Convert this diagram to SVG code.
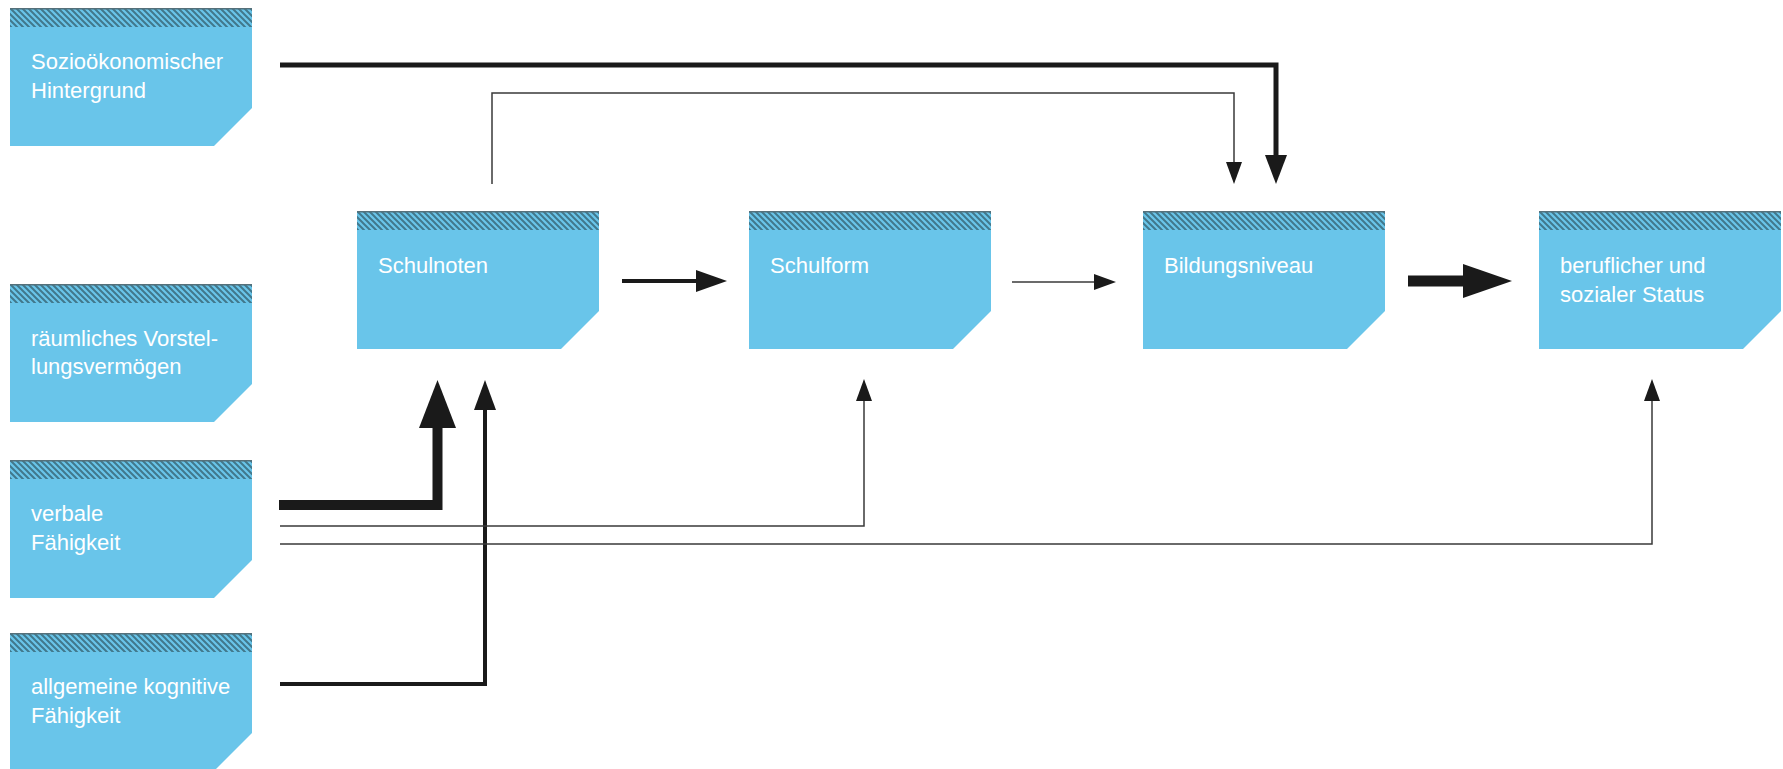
<svg xmlns="http://www.w3.org/2000/svg" width="1783" height="769" viewBox="0 0 1783 769">
  <defs>
    <pattern id="hatch" patternUnits="userSpaceOnUse" width="6" height="6">
      <rect width="6" height="6" fill="#69c5ea"/>
      <path d="M-1,-1 L7,7 M-1,5 L1,7 M5,-1 L7,1" stroke="#41788c" stroke-width="2"/>
    </pattern>
    <path id="box" d="M0,0 H242 V100 L204,138 H0 Z"/>
  </defs>
  <style>
    .fill { fill: #69c5ea; }
    .hatch { fill: url(#hatch); }
    .topline { fill: #55707a; }
    .label { font-family: "Liberation Sans", Arial, sans-serif; font-size: 22px; fill: #ffffff; }
    .ln { fill: none; stroke: #1a1a1a; stroke-linejoin: miter; stroke-linecap: butt; }
    .thin { stroke: #3a3a3a; stroke-width: 1.5; }
    .head { fill: #1a1a1a; }
  </style>

  <rect width="1783" height="769" fill="#ffffff"/>

  <!-- Nodes -->
  <g id="node-sozio" transform="translate(10,8)">
    <use href="#box" class="fill"/>
    <rect x="0" y="0" width="242" height="19" class="hatch"/>
    <rect x="0" y="0" width="242" height="1.5" class="topline"/>
    <text class="label" x="21" y="61">Sozioökonomischer</text>
    <text class="label" x="21" y="90">Hintergrund</text>
  </g>
  <g id="node-raeumlich" transform="translate(10,284)">
    <use href="#box" class="fill"/>
    <rect x="0" y="0" width="242" height="19" class="hatch"/>
    <rect x="0" y="0" width="242" height="1.5" class="topline"/>
    <text class="label" x="21" y="62">räumliches Vorstel-</text>
    <text class="label" x="21" y="90">lungsvermögen</text>
  </g>
  <g id="node-verbal" transform="translate(10,460)">
    <use href="#box" class="fill"/>
    <rect x="0" y="0" width="242" height="19" class="hatch"/>
    <rect x="0" y="0" width="242" height="1.5" class="topline"/>
    <text class="label" x="21" y="61">verbale</text>
    <text class="label" x="21" y="90">Fähigkeit</text>
  </g>
  <g id="node-kognitiv" transform="translate(10,633)">
    <use href="#box" class="fill"/>
    <rect x="0" y="0" width="242" height="19" class="hatch"/>
    <rect x="0" y="0" width="242" height="1.5" class="topline"/>
    <text class="label" x="21" y="61">allgemeine kognitive</text>
    <text class="label" x="21" y="90">Fähigkeit</text>
  </g>
  <g id="node-schulnoten" transform="translate(357,211)">
    <use href="#box" class="fill"/>
    <rect x="0" y="0" width="242" height="19" class="hatch"/>
    <rect x="0" y="0" width="242" height="1.5" class="topline"/>
    <text class="label" x="21" y="62">Schulnoten</text>
  </g>
  <g id="node-schulform" transform="translate(749,211)">
    <use href="#box" class="fill"/>
    <rect x="0" y="0" width="242" height="19" class="hatch"/>
    <rect x="0" y="0" width="242" height="1.5" class="topline"/>
    <text class="label" x="21" y="62">Schulform</text>
  </g>
  <g id="node-bildung" transform="translate(1143,211)">
    <use href="#box" class="fill"/>
    <rect x="0" y="0" width="242" height="19" class="hatch"/>
    <rect x="0" y="0" width="242" height="1.5" class="topline"/>
    <text class="label" x="21" y="62">Bildungsniveau</text>
  </g>
  <g id="node-status" transform="translate(1539,211)">
    <use href="#box" class="fill"/>
    <rect x="0" y="0" width="242" height="19" class="hatch"/>
    <rect x="0" y="0" width="242" height="1.5" class="topline"/>
    <text class="label" x="21" y="62">beruflicher und</text>
    <text class="label" x="21" y="91">sozialer Status</text>
  </g>

  <!-- Connectors -->
  <g id="connectors">
    <!-- Sozio -> Bildungsniveau (thick) -->
    <path class="ln" stroke-width="5" d="M280,65 H1276 V156"/>
    <polygon class="head" points="1265,155 1287,155 1276,184"/>
    <!-- Schulnoten -> Bildungsniveau (thin) -->
    <path class="ln thin" d="M492,184 V93 H1234 V163"/>
    <polygon class="head" points="1226,162 1242,162 1234,184"/>
    <!-- Schulnoten -> Schulform -->
    <path class="ln" stroke-width="4" d="M622,281 H697"/>
    <polygon class="head" points="696,270 727,281 696,292"/>
    <!-- Schulform -> Bildungsniveau (thin) -->
    <path class="ln thin" d="M1012,282 H1095"/>
    <polygon class="head" points="1094,274 1116,282 1094,290"/>
    <!-- Bildungsniveau -> Status (very thick) -->
    <path class="ln" stroke-width="11" d="M1408,281 H1464"/>
    <polygon class="head" points="1463,264 1512,281 1463,298"/>
    <!-- verbal -> Schulnoten (very thick) -->
    <path class="ln" stroke-width="10" d="M279,505 H437.5 V427"/>
    <polygon class="head" points="419,428 456,428 437.5,380"/>
    <!-- kognitiv -> Schulnoten -->
    <path class="ln" stroke-width="4" d="M280,684 H485 V409"/>
    <polygon class="head" points="474,410 496,410 485,380"/>
    <!-- verbal -> Schulform (thin) -->
    <path class="ln thin" d="M280,526 H864 V400"/>
    <polygon class="head" points="856,401 872,401 864,379"/>
    <!-- verbal -> Status (thin) -->
    <path class="ln thin" d="M280,544 H1652 V400"/>
    <polygon class="head" points="1644,401 1660,401 1652,379"/>
  </g>
</svg>
